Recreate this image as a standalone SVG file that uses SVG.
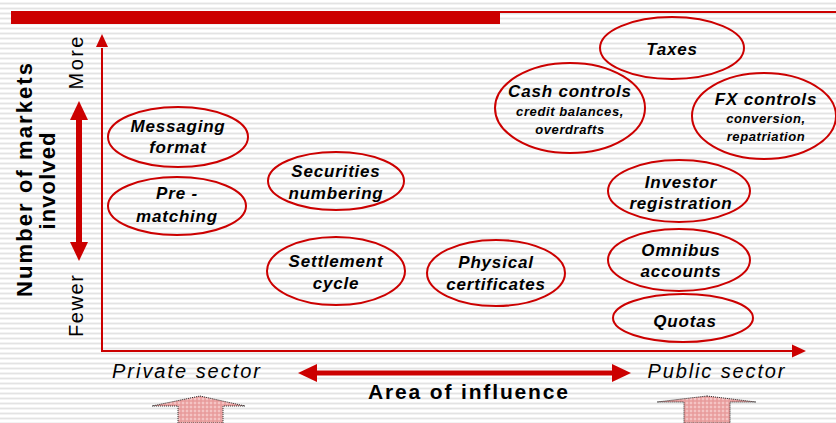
<svg xmlns="http://www.w3.org/2000/svg" width="836" height="423" viewBox="0 0 836 423">
<defs>
<pattern id="stripes" patternUnits="userSpaceOnUse" width="10" height="5">
<rect width="10" height="5" fill="#ffffff"/>
<rect y="2.6" width="10" height="1.8" fill="#e3e3e3"/>
</pattern>
<pattern id="check" patternUnits="userSpaceOnUse" width="4" height="4">
<rect width="4" height="4" fill="#f4c4c4"/>
<rect width="2" height="4" fill="#e89a9a" opacity="0.7"/>
<rect width="4" height="2" fill="#e89a9a" opacity="0.7"/>
</pattern>
</defs>
<style>
.el{fill:none;stroke:#cc0000;stroke-width:2}
.t{font-family:"Liberation Sans",Arial,sans-serif;font-weight:bold;font-style:italic;font-size:17px;letter-spacing:0.8px;fill:#000;text-anchor:middle}
.s{font-family:"Liberation Sans",Arial,sans-serif;font-weight:bold;font-style:italic;font-size:13px;letter-spacing:0.6px;fill:#000;text-anchor:middle}
.ax{font-family:"Liberation Sans",Arial,sans-serif;font-size:20px;fill:#000;text-anchor:middle}
.bd{font-family:"Liberation Sans",Arial,sans-serif;font-weight:bold;font-size:22px;fill:#000;text-anchor:middle}
.up{fill:url(#check);stroke:#222;stroke-width:1;stroke-dasharray:1 1}
</style>
<rect width="836" height="423" fill="url(#stripes)"/>
<rect x="11" y="11" width="489" height="13" fill="#cc0000"/>
<rect x="500" y="11" width="336" height="2" fill="#cc0000"/>

<g id="connectors">
<polyline points="102,48 102,351 794,351" fill="none" stroke="#cc0000" stroke-width="2"/>
<path d="M102,34 L96,47 L108,47 Z" fill="#cc0000"/>
<path d="M806,351 L792,344.5 L792,357.5 Z" fill="#cc0000"/>
<g id="vertical-double-arrow">
<rect x="76" y="118" width="6" height="127" fill="#cc0000"/>
<path d="M79,101 L70,120 L88,120 Z" fill="#cc0000"/>
<path d="M79,261 L70,242 L88,242 Z" fill="#cc0000"/>
</g>
<g id="horizontal-double-arrow">
<rect x="315" y="370.5" width="300" height="5" fill="#cc0000"/>
<path d="M298,373 L317,364 L317,382 Z" fill="#cc0000"/>
<path d="M631,373 L612,364 L612,382 Z" fill="#cc0000"/>
</g>
</g>

<g id="axis-labels">
<text class="ax" transform="translate(83,63) rotate(-90)" textLength="53" lengthAdjust="spacing">More</text>
<text class="ax" transform="translate(83,306) rotate(-90)" textLength="62" lengthAdjust="spacing">Fewer</text>
<text class="bd" transform="translate(32,180) rotate(-90)" textLength="234" lengthAdjust="spacing">Number of markets</text>
<text class="bd" transform="translate(55,181) rotate(-90)" textLength="97" lengthAdjust="spacing">involved</text>
<text class="ax" style="font-style:italic" x="186" y="378" textLength="148" lengthAdjust="spacing">Private sector</text>
<text class="ax" style="font-style:italic" x="716" y="378" textLength="137" lengthAdjust="spacing">Public sector</text>
<text class="bd" style="font-size:21px" x="468" y="399" textLength="200" lengthAdjust="spacing">Area of influence</text>
</g>

<g id="up-arrow-left">
<path class="up" d="M200,396 L245,406 L223,406 L223,423 L178,423 L178,406 L152,406 Z"/>
</g>
<g id="up-arrow-right">
<path class="up" d="M707,396 L756,402 L730,402 L730,423 L684,423 L684,402 L657,402 Z"/>
</g>

<g id="messaging-format">
<ellipse class="el" cx="178" cy="137" rx="70" ry="30"/>
<text class="t" x="178" y="132">Messaging</text>
<text class="t" x="178" y="153">format</text>
</g>
<g id="pre-matching">
<ellipse class="el" cx="177" cy="206" rx="69" ry="29"/>
<text class="t" x="177" y="199">Pre -</text>
<text class="t" x="177" y="222">matching</text>
</g>
<g id="securities-numbering">
<ellipse class="el" cx="336" cy="181" rx="68" ry="29"/>
<text class="t" x="336" y="177">Securities</text>
<text class="t" x="336" y="199">numbering</text>
</g>
<g id="settlement-cycle">
<ellipse class="el" cx="336" cy="271" rx="69" ry="34"/>
<text class="t" x="336" y="267">Settlement</text>
<text class="t" x="336" y="289">cycle</text>
</g>
<g id="physical-certificates">
<ellipse class="el" cx="496" cy="273" rx="69" ry="33"/>
<text class="t" x="496" y="268">Physical</text>
<text class="t" x="496" y="290">certificates</text>
</g>
<g id="cash-controls">
<ellipse class="el" cx="570" cy="108" rx="75" ry="45"/>
<text class="t" x="570" y="97">Cash controls</text>
<text class="s" x="570" y="116">credit balances,</text>
<text class="s" x="570" y="134">overdrafts</text>
</g>
<g id="taxes">
<ellipse class="el" cx="672" cy="48" rx="72" ry="31"/>
<text class="t" x="672" y="55">Taxes</text>
</g>
<g id="fx-controls">
<ellipse class="el" cx="764" cy="116" rx="72" ry="43"/>
<text class="t" x="766" y="105">FX controls</text>
<text class="s" x="766" y="123">conversion,</text>
<text class="s" x="766" y="141">repatriation</text>
</g>
<g id="investor-registration">
<ellipse class="el" cx="679" cy="191" rx="71" ry="31"/>
<text class="t" x="681" y="188">Investor</text>
<text class="t" x="681" y="209">registration</text>
</g>
<g id="omnibus-accounts">
<ellipse class="el" cx="679" cy="260" rx="71" ry="31"/>
<text class="t" x="681" y="256">Omnibus</text>
<text class="t" x="681" y="277">accounts</text>
</g>
<g id="quotas">
<ellipse class="el" cx="683" cy="318" rx="70" ry="24"/>
<text class="t" x="685" y="327">Quotas</text>
</g>
</svg>
